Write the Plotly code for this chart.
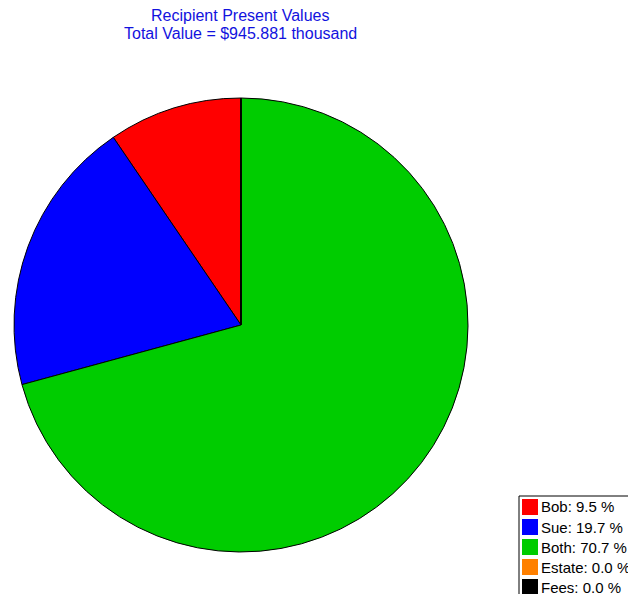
import plotly.graph_objects as go

# Shares of the total present value, in percent
recipients = ["Bob", "Sue", "Both", "Estate", "Fees"]
shares = [9.5, 19.7, 70.7, 0.0, 0.0]
slice_colors = ["#ff0000", "#0000ff", "#00cc00", "#ff8000", "#000000"]
total_value_thousand = 945.881

W, H = 628, 594


def px_x(x):
    return x / W


def px_y(y):
    return 1 - y / H


fig = go.Figure()

# Pie centred at (241, 325) with radius 227 px; the first slice begins at
# 12 o'clock and the slices run anticlockwise
cx, cy, r = 241, 325, 227
first_angle = shares[0] / sum(shares) * 360
fig.add_trace(go.Pie(
    labels=recipients,
    values=shares,
    sort=False,
    direction="counterclockwise",
    rotation=-first_angle,
    marker=dict(colors=slice_colors, line=dict(color="#000000", width=1)),
    textinfo="none",
    hoverinfo="label+percent",
    showlegend=False,
    domain=dict(x=[px_x(cx - r), px_x(cx + r)], y=[px_y(cy + r), px_y(cy - r)]),
))

# Title lines
title_color = "rgb(18,18,222)"
title_font = dict(family="Liberation Sans, Arial, sans-serif", size=16, color=title_color)
annotations = [
    dict(text="Recipient Present Values", x=px_x(240), y=px_y(16),
         xref="paper", yref="paper", xanchor="center", yanchor="middle",
         showarrow=False, font=title_font),
    dict(text=f"Total Value = ${total_value_thousand:.3f} thousand", x=px_x(240), y=px_y(34),
         xref="paper", yref="paper", xanchor="center", yanchor="middle",
         showarrow=False, font=title_font),
]

# Legend box in the lower-right corner
shapes = [dict(type="rect", xref="paper", yref="paper",
               x0=px_x(519), x1=px_x(W + 20), y0=px_y(H + 20), y1=px_y(496),
               line=dict(color="#000000", width=1), fillcolor="#ffffff", layer="above")]
leg_font = dict(family="Liberation Sans, Arial, sans-serif", size=15, color="#000000")
row0, step, sq = 507, 20, 16
for i, (name, share, col) in enumerate(zip(recipients, shares, slice_colors)):
    yc = row0 + i * step
    shapes.append(dict(type="rect", xref="paper", yref="paper",
                       x0=px_x(522), x1=px_x(522 + sq),
                       y0=px_y(yc + sq / 2), y1=px_y(yc - sq / 2),
                       line=dict(width=0), fillcolor=col, layer="above"))
    annotations.append(dict(text=f"{name}: {share:.1f} %", x=px_x(539), y=px_y(yc),
                            xref="paper", yref="paper", xanchor="left", yanchor="middle",
                            showarrow=False, font=leg_font))

fig.update_layout(
    width=W, height=H,
    margin=dict(l=0, r=0, t=0, b=0),
    paper_bgcolor="#ffffff",
    plot_bgcolor="#ffffff",
    annotations=annotations,
    shapes=shapes,
)

fig.write_html("out.html")
